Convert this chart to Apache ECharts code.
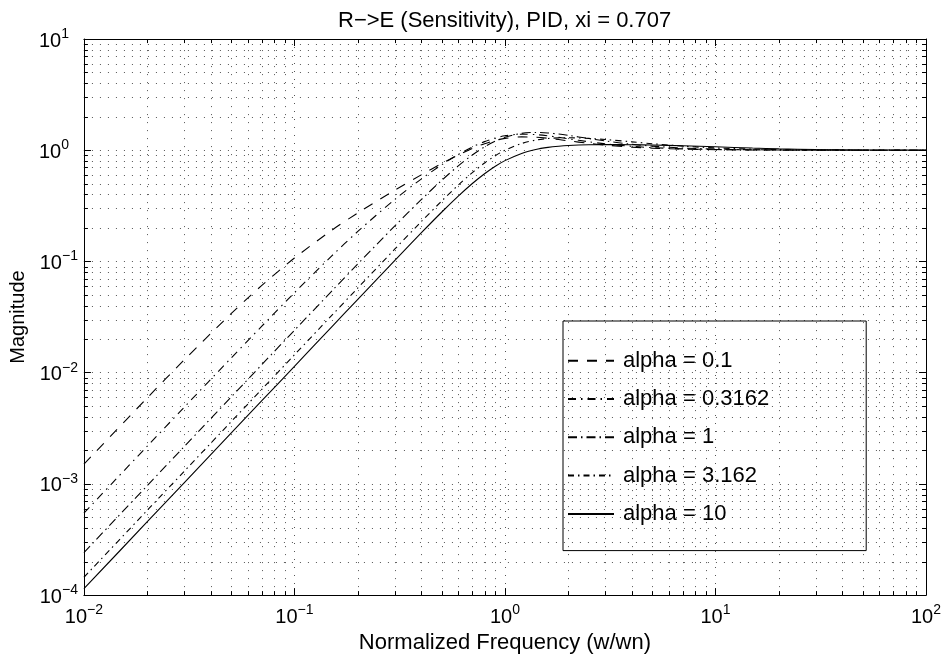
<!DOCTYPE html>
<html><head><meta charset="utf-8">
<script src="https://cdn.jsdelivr.net/npm/echarts@6/dist/echarts.min.js"></script>
<style>html,body{margin:0;padding:0;background:#fff}#c{width:946px;height:659px}</style>
</head><body><div id="c"></div>
<script>
// Normalized frequency samples (w/wn)
const freq = [0.01, 0.02, 0.03, 0.05, 0.07, 0.1, 0.15, 0.2, 0.3, 0.4, 0.5, 0.6, 0.7, 0.8, 0.9, 1.0,
  1.2, 1.4, 1.6, 1.8, 2, 2.5, 3, 4, 5, 7, 10, 15, 20, 30, 50, 100];
// Magnitudes
const magAlpha0_1 = [1.507e-3, 5.94e-3, 1.306e-2, 0.03388, 0.06085, 0.1073, 0.1899, 0.2730, 0.4376, 0.6001,
  0.7585, 0.9070, 1.0381, 1.1451, 1.2244, 1.2768, 1.3179, 1.3088, 1.2799, 1.2468, 1.2153, 1.1535, 1.1127,
  1.0668, 1.0438, 1.0228, 1.0113, 1.0051, 1.0029, 1.0013, 1.0005, 1.0001];
const magAlpha0_3162 = [5.469e-4, 2.185e-3, 4.904e-3, 0.01352, 0.02620, 0.05226, 0.1116, 0.1861, 0.3612, 0.5503,
  0.7384, 0.9147, 1.0693, 1.1946, 1.2869, 1.3475, 1.3938, 1.3814, 1.3460, 1.3054, 1.2671, 1.1914, 1.1411,
  1.0841, 1.0552, 1.0288, 1.0143, 1.0064, 1.0036, 1.0016, 1.0006, 1.0001];
const magAlpha1 = [2.414e-4, 9.655e-4, 2.172e-3, 6.029e-3, 0.01181, 0.02404, 0.05381, 0.09494, 0.2089, 0.3590,
  0.5348, 0.7225, 0.9061, 1.0706, 1.2054, 1.3066, 1.4176, 1.4449, 1.4298, 1.3974, 1.3602, 1.2745, 1.2103,
  1.1309, 1.0880, 1.0470, 1.0236, 1.0106, 1.0060, 1.0027, 1.0010, 1.0002];
const magAlpha3_162 = [1.447e-4, 5.788e-4, 1.302e-3, 3.618e-3, 7.090e-3, 0.01447, 0.03253, 0.05778, 0.1294, 0.2277,
  0.3487, 0.4857, 0.6289, 0.7677, 0.8928, 0.9987, 1.1489, 1.2326, 1.2741, 1.2913, 1.2949, 1.2773, 1.2477,
  1.1897, 1.1448, 1.0886, 1.0485, 1.0230, 1.0133, 1.0060, 1.0022, 1.0006];
const magAlpha10 = [1.141e-4, 4.566e-4, 1.027e-3, 2.854e-3, 5.593e-3, 0.01141, 0.02567, 0.04562, 0.1023, 0.1803,
  0.2768, 0.3865, 0.5020, 0.6148, 0.7178, 0.8062, 0.9360, 1.0145, 1.0601, 1.0867, 1.1024, 1.1194, 1.1235,
  1.1208, 1.1137, 1.0967, 1.0730, 1.0455, 1.0298, 1.0150, 1.0058, 1.0015];
const seriesNames = ['alpha = 0.1', 'alpha = 0.3162', 'alpha = 1', 'alpha = 3.162', 'alpha = 10'];
const seriesValues = [magAlpha0_1, magAlpha0_3162, magAlpha1, magAlpha3_162, magAlpha10];
// Axis ranges and minor grid values
const xRange = [0.01, 100];
const yRange = [1e-4, 10];
const xMinor = [0.02,0.03,0.04,0.05,0.06,0.07,0.08,0.09, 0.2,0.3,0.4,0.5,0.6,0.7,0.8,0.9,
  2,3,4,5,6,7,8,9, 20,30,40,50,60,70,80,90];
const yMinor = [2e-4,3e-4,4e-4,5e-4,6e-4,7e-4,8e-4,9e-4, 2e-3,3e-3,4e-3,5e-3,6e-3,7e-3,8e-3,9e-3,
  0.02,0.03,0.04,0.05,0.06,0.07,0.08,0.09, 0.2,0.3,0.4,0.5,0.6,0.7,0.8,0.9, 2,3,4,5,6,7,8,9];

const FONT = "'Liberation Sans', Arial, Helvetica, sans-serif";
const dashes = [[10, 9], [8, 5, 1.5, 5], [9, 4, 1.5, 4], [6, 4, 1.5, 4], null];

const chart = echarts.init(document.getElementById('c'), null, {renderer: 'canvas'});
const expFmtX = v => {
  const e = Math.round(Math.log10(v));
  return '{b|10}{s|' + (e < 0 ? '\u2212' + (-e) : e) + '}';
};
const expFmtY = v => {
  const e = Math.round(Math.log10(v));
  return e < 0 ? '{b|10}{s|\u2212' + (-e) + '}' : '{b|10}{p|' + e + '}';
};
const supBase = {fontSize: 14, fontFamily: FONT, color: '#000', lineHeight: 14, verticalAlign: 'top'};
const baseStyle = {fontSize: 20, fontFamily: FONT, color: '#000', lineHeight: 24, verticalAlign: 'bottom'};
const richX = {b: baseStyle, s: supBase};
const richY = {b: baseStyle, s: supBase, p: Object.assign({}, supBase, {padding: [0, 9, 0, 0]})};
const gridStyle = {color: '#555', width: 1, type: [1, 7]};
const minorData = xMinor.map(v => [v, 1, 0]).concat(yMinor.map(v => [1, v, 1]));
const px = v => Math.round(v) + 0.5;

const series = seriesNames.map((name, i) => ({
  name: name,
  type: 'line',
  data: freq.map((f, j) => [f, seriesValues[i][j]]),
  symbol: 'none',
  smooth: 0.3,
  z: 3,
  lineStyle: {color: '#000', width: 1.1, type: dashes[i] || 'solid'},
  itemStyle: {color: '#000'}
}));
series.push({
  type: 'custom',
  silent: true,
  z: 1,
  data: minorData,
  renderItem: function (params, api) {
    const kind = api.value(2);
    if (kind === 0) {
      const v = api.value(0);
      const a = api.coord([v, yRange[0]]), b = api.coord([v, yRange[1]]);
      const x = px(a[0]);
      return {type: 'group', children: [
        {type: 'line', shape: {x1: x, y1: a[1], x2: x, y2: b[1]}, style: {stroke: '#555', lineWidth: 1, lineDash: [1, 7]}},
        {type: 'line', shape: {x1: x, y1: a[1], x2: x, y2: a[1] - 4}, style: {stroke: '#000', lineWidth: 1}},
        {type: 'line', shape: {x1: x, y1: b[1], x2: x, y2: b[1] + 4}, style: {stroke: '#000', lineWidth: 1}}
      ]};
    } else {
      const v = api.value(1);
      const a = api.coord([xRange[0], v]), b = api.coord([xRange[1], v]);
      const y = px(a[1]);
      return {type: 'group', children: [
        {type: 'line', shape: {x1: a[0], y1: y, x2: b[0], y2: y}, style: {stroke: '#555', lineWidth: 1, lineDash: [1, 7]}},
        {type: 'line', shape: {x1: a[0], y1: y, x2: a[0] + 4, y2: y}, style: {stroke: '#000', lineWidth: 1}},
        {type: 'line', shape: {x1: b[0], y1: y, x2: b[0] - 4, y2: y}, style: {stroke: '#000', lineWidth: 1}}
      ]};
    }
  }
});

const axisCommon = {
  type: 'log', logBase: 10,
  axisLine: {show: true, onZero: false, lineStyle: {color: '#000', width: 1}},
  axisTick: {show: true, inside: true, length: 7, lineStyle: {color: '#000'}},
  minorTick: {show: false}
};

chart.setOption({
  backgroundColor: '#fff',
  animation: false,
  textStyle: {fontFamily: FONT},
  title: {
    text: 'R\u2212>E (Sensitivity), PID, xi = 0.707',
    left: 333, top: 5,
    textStyle: {fontSize: 22, fontWeight: 'normal', color: '#000', fontFamily: FONT}
  },
  grid: {left: 83, top: 39, width: 843, height: 564, containLabel: false},
  legend: {
    orient: 'vertical',
    left: 563, top: 321,
    data: seriesNames,
    itemWidth: 46, itemHeight: 22, itemGap: 16.3,
    padding: [28.7, 97, 25.7, 4],
    borderColor: '#000', borderWidth: 1,
    itemStyle: {opacity: 0, color: 'rgba(0,0,0,0)', borderWidth: 0},
    textStyle: {fontSize: 22, lineHeight: 22, color: '#000', fontFamily: FONT, padding: [0, 0, 0, 4]},
    selectedMode: false
  },
  xAxis: [
    Object.assign({}, axisCommon, {
      position: 'bottom', min: xRange[0], max: xRange[1],
      name: 'Normalized Frequency (w/wn)', nameLocation: 'middle', nameGap: 34,
      nameTextStyle: {fontSize: 22, color: '#000', fontFamily: FONT},
      axisLabel: {show: true, margin: 8, formatter: expFmtX, rich: richX},
      splitLine: {show: true, lineStyle: gridStyle}
    }),
    Object.assign({}, axisCommon, {
      position: 'top', min: xRange[0], max: xRange[1],
      axisLabel: {show: false}, splitLine: {show: false}
    })
  ],
  yAxis: [
    Object.assign({}, axisCommon, {
      position: 'left', min: yRange[0], max: yRange[1],
      name: 'Magnitude', nameLocation: 'middle', nameGap: 53, nameRotate: 90,
      nameTextStyle: {fontSize: 20, color: '#000', fontFamily: FONT},
      axisLabel: {show: true, margin: 6, formatter: expFmtY, rich: richY},
      splitLine: {show: true, lineStyle: gridStyle}
    }),
    Object.assign({}, axisCommon, {
      position: 'right', min: yRange[0], max: yRange[1],
      axisLabel: {show: false}, splitLine: {show: false}
    })
  ],
  series: series
});
</script>
</body></html>
